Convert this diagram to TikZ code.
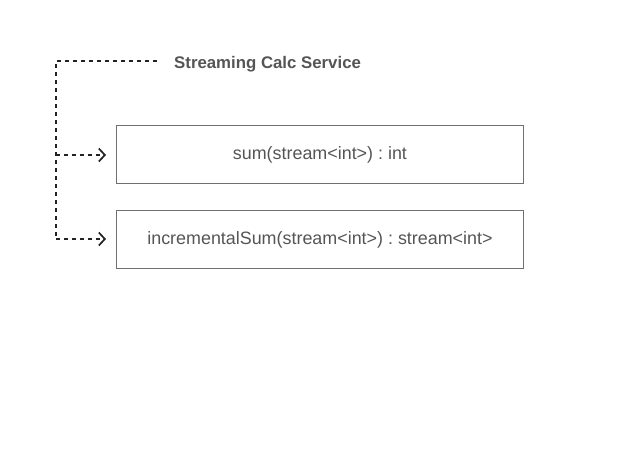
\documentclass[tikz,border=0pt]{standalone}
\usepackage{fontspec}
\setmainfont{Liberation Sans}
\usetikzlibrary{arrows.meta}
\definecolor{boxgray}{HTML}{707070}
\definecolor{txtgray}{HTML}{555555}
\definecolor{lnc}{HTML}{222222}
\frenchspacing
\begin{document}
\begin{tikzpicture}[x=1pt,y=-1pt,
  opbox/.style={draw=boxgray,line width=0.9pt,minimum width=407pt,minimum height=58pt,inner sep=0pt,text=txtgray,font=\fontsize{17.9}{20}\selectfont},
  conn/.style={draw=lnc,line width=1.3pt,dash pattern=on 4pt off 4pt},
  tip/.style={-{Straight Barb[length=6pt,width=13pt,line width=1.7pt]}}]
\useasboundingbox (0,0) rectangle (628,474);
\node[opbox,anchor=north west] (b1) at (116,125) {\raisebox{-1.5pt}{\frenchspacing sum(stream<int>) : int}};
\node[opbox,anchor=north west] (b2) at (116,210) {\raisebox{-1.5pt}{\frenchspacing incrementalSum(stream<int>) : stream<int>}};
\node[anchor=west,inner sep=0pt,text=txtgray,font=\bfseries\fontsize{16.8}{20}\selectfont] (title) at (174,64.5) {Streaming Calc Service};
\coordinate (c0) at (157,61);
\coordinate (c1) at (56,61);
\coordinate (c2) at (56,239);
\coordinate (a1) at (56,155);
\coordinate (e1) at (106,155);
\coordinate (e2) at (106,239);
\draw[conn] (c0) -- (c1) -- (c2);
\draw[conn,tip] (c2) -- (e2);
\draw[conn,tip] (a1) -- (e1);
\end{tikzpicture}
\end{document}
